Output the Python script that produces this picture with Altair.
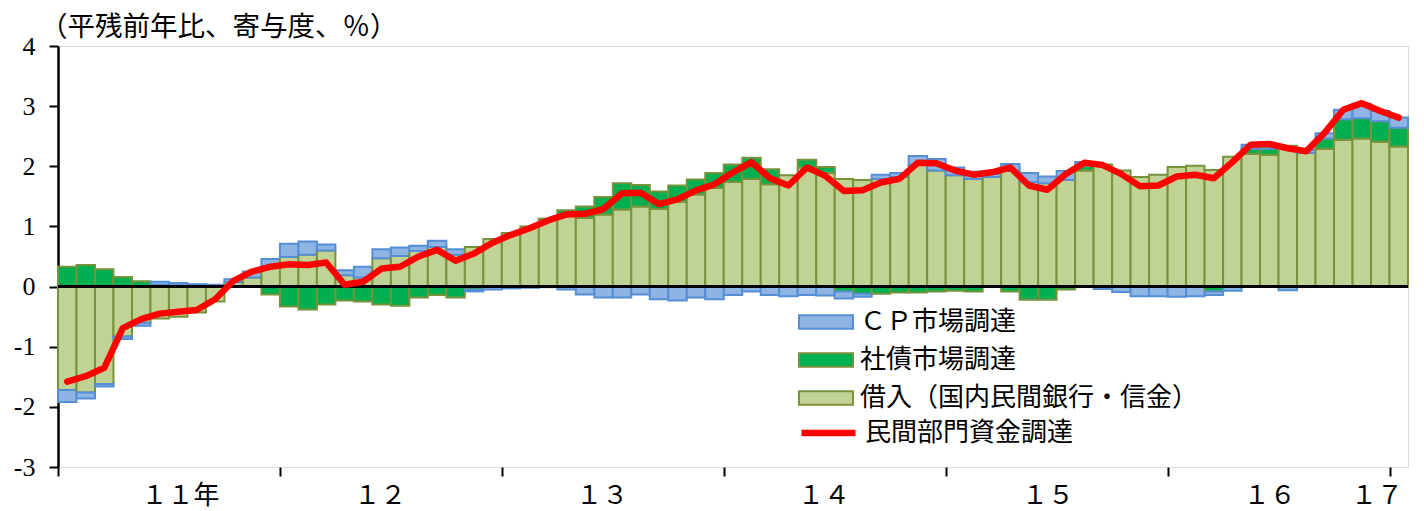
import altair as alt
import pandas as pd

# ---- data (monthly, Jan 2011 .. Jan 2017) ----
loans = [-1.72, -1.76, -1.62, -0.83, -0.60, -0.53, -0.50, -0.43, -0.25, 0.07, 0.15, 0.34,
         0.49, 0.53, 0.60, 0.19, 0.15, 0.47, 0.51, 0.59, 0.66, 0.53, 0.66, 0.79,
         0.89, 1.00, 1.12, 1.20, 1.14, 1.20, 1.28, 1.33, 1.29, 1.41, 1.53, 1.64,
         1.74, 1.79, 1.70, 1.85, 1.98, 1.89, 1.79, 1.77, 1.79, 1.82, 2.02, 1.93,
         1.85, 1.79, 1.82, 1.92, 1.74, 1.72, 1.77, 1.93, 2.03, 1.93, 1.82, 1.86,
         1.99, 2.01, 1.94, 2.16, 2.21, 2.19, 2.34, 2.22, 2.29, 2.44, 2.46, 2.41,
         2.33]
bonds = [0.33, 0.36, 0.29, 0.16, 0.09, 0.03, 0.02, 0.01, 0.01, 0.00, 0.00, -0.13,
         -0.33, -0.38, -0.30, -0.23, -0.25, -0.30, -0.32, -0.18, -0.14, -0.18, -0.05, 0.00,
         0.00, 0.00, 0.01, 0.07, 0.19, 0.29, 0.44, 0.36, 0.29, 0.27, 0.25, 0.25,
         0.29, 0.35, 0.25, 0.00, 0.13, 0.10, -0.08, -0.12, -0.12, -0.10, -0.10, -0.08,
         -0.07, -0.08, 0.00, -0.08, -0.22, -0.22, -0.05, 0.08, 0.00, 0.00, 0.00, 0.00,
         0.00, 0.00, -0.08, 0.00, 0.08, 0.10, 0.00, 0.00, 0.17, 0.34, 0.34, 0.34,
         0.31]
cp = [-0.20, -0.10, -0.04, -0.04, -0.05, 0.05, 0.04, 0.03, 0.02, 0.05, 0.10, 0.12,
      0.22, 0.22, 0.10, 0.08, 0.18, 0.15, 0.14, 0.09, 0.10, 0.09, -0.03, -0.05,
      -0.03, -0.02, -0.01, -0.05, -0.13, -0.18, -0.18, -0.13, -0.21, -0.23, -0.18, -0.21,
      -0.14, -0.08, -0.14, -0.16, -0.14, -0.15, -0.12, -0.05, 0.07, 0.07, 0.15, 0.19,
      0.13, 0.12, 0.05, 0.12, 0.15, 0.11, 0.15, 0.06, -0.04, -0.09, -0.16, -0.16,
      -0.17, -0.16, -0.06, -0.07, 0.07, 0.05, -0.06, 0.05, 0.09, 0.16, 0.24, 0.17,
      0.17]
total = [-1.58, -1.49, -1.35, -0.69, -0.54, -0.45, -0.42, -0.39, -0.21, 0.10, 0.25, 0.33,
         0.37, 0.36, 0.40, 0.03, 0.08, 0.30, 0.33, 0.50, 0.61, 0.43, 0.55, 0.73,
         0.86, 0.97, 1.10, 1.20, 1.21, 1.29, 1.55, 1.56, 1.37, 1.45, 1.60, 1.70,
         1.90, 2.07, 1.80, 1.68, 1.98, 1.84, 1.59, 1.60, 1.73, 1.79, 2.06, 2.05,
         1.93, 1.86, 1.90, 1.98, 1.68, 1.61, 1.87, 2.06, 2.02, 1.87, 1.67, 1.68,
         1.83, 1.86, 1.80, 2.07, 2.36, 2.37, 2.30, 2.25, 2.56, 2.94, 3.05, 2.92,
         2.81]

series_names = ["ＣＰ市場調達", "社債市場調達", "借入（国内民間銀行・信金）"]
line_name = "民間部門資金調達"
year_ticks = [0, 12, 24, 36, 48, 60, 72]
year_label_pos = [6.6, 17.4, 29.4, 41.4, 53.5, 65.5, 71.3]
year_labels = ["１１年", "１２", "１３", "１４", "１５", "１６", "１７"]
y_ticks = [-3, -2, -1, 0, 1, 2, 3, 4]

fills = ["#8DB4E2", "#00B050", "#C0D394"]
strokes = ["#558ED5", "#77933C", "#77933C"]

FONT = "Liberation Serif, Noto Sans CJK JP"

rows = []
for i in range(len(loans)):
    rows.append({"m": i, "series": series_names[2], "ord": 0, "value": loans[i]})
    rows.append({"m": i, "series": series_names[1], "ord": 1, "value": bonds[i]})
    rows.append({"m": i, "series": series_names[0], "ord": 2, "value": cp[i]})
bars_df = pd.DataFrame(rows)
line_df = pd.DataFrame({"m": list(range(len(total))), "total": total, "name": line_name})
zero_df = pd.DataFrame({"v": [0]})

xscale = alt.Scale(domain=[0, len(loans)], nice=False, zero=False)
yscale = alt.Scale(domain=[-3, 4], nice=False)

label_map = "{" + ",".join(f"'{p}':'{t}'" for p, t in zip(year_label_pos, year_labels)) + "}"

tick_axis = alt.Axis(values=year_ticks, labels=False, ticks=True, tickSize=9, tickWidth=2,
                     tickColor="black", domain=False, grid=False, title=None, orient="bottom")
label_axis = alt.Axis(values=year_label_pos, ticks=False, domain=False, grid=False, title=None,
                      orient="bottom", labelExpr=f"{label_map}[''+datum.value]",
                      labelFont=FONT, labelFontSize=26, labelColor="black", labelPadding=15,
                      labelOverlap=False, labelFlush=False)
y_axis = alt.Axis(values=y_ticks, labelExpr="datum.value + ''", labelFont=FONT, labelFontSize=26,
                  labelColor="black", tickSize=9, tickWidth=2, tickColor="black",
                  domainColor="black", domainWidth=2.5, grid=False, title=None, labelPadding=14)

bar_legend = alt.Legend(orient="none", legendX=740, legendY=257, direction="vertical", title=None,
                        symbolType="M-1,-0.25L1,-0.25L1,0.25L-1,0.25Z", symbolSize=2916,
                        symbolStrokeWidth=2, clipHeight=38, rowPadding=0, padding=0,
                        labelFont=FONT, labelFontSize=26, labelColor="black", labelOffset=6,
                        labelLimit=600)

bars = alt.Chart(bars_df).transform_filter("datum.value != 0").transform_stack(
    stack="value", groupby=["m"], as_=["y0", "y1"],
    sort=[alt.SortField("ord", order="ascending")], offset="zero"
).transform_calculate(m2="datum.m + 1").mark_bar(strokeWidth=2).encode(
    x=alt.X("m:Q", scale=xscale, axis=tick_axis),
    x2="m2:Q",
    y=alt.Y("y0:Q", scale=yscale, axis=y_axis),
    y2="y1:Q",
    fill=alt.Fill("series:N", scale=alt.Scale(domain=series_names, range=fills), legend=bar_legend),
    stroke=alt.Stroke("series:N", scale=alt.Scale(domain=series_names, range=strokes), legend=bar_legend),
)

zero = alt.Chart(zero_df).mark_rule(color="black", strokeWidth=3).encode(
    y=alt.Y("v:Q", scale=yscale)
)

line_legend = alt.Legend(orient="none", legendX=740, legendY=368, title=None, symbolType="stroke",
                         symbolSize=2916, symbolStrokeWidth=6.5, clipHeight=38, rowPadding=0,
                         padding=0, labelFont=FONT, labelFontSize=26, labelColor="black",
                         labelOffset=6, labelLimit=600)

line = alt.Chart(line_df).transform_calculate(mc="datum.m + 0.5").mark_line(
    strokeWidth=6.5, strokeJoin="round", strokeCap="round"
).encode(
    x=alt.X("mc:Q", scale=xscale, axis=label_axis),
    y=alt.Y("total:Q", scale=yscale),
    color=alt.Color("name:N", scale=alt.Scale(domain=[line_name], range=["#FF0000"]), legend=line_legend),
)

chart = alt.layer(bars, zero, line).resolve_axis(x="independent").properties(
    width=1350, height=421,
    autosize=alt.AutoSizeParams(type="none"),
    padding={"left": 50, "top": 38, "right": 8, "bottom": 46},
    title=alt.TitleParams("（平残前年比、寄与度、％）", anchor="start", frame="group", font=FONT,
                          fontSize=27.5, fontWeight="normal", color="black", offset=6, dx=-18, dy=14),
).configure_view(stroke="black", strokeWidth=2.5).configure(background="white")

chart.save("out.html", embed_options={"renderer": "svg", "actions": False})
